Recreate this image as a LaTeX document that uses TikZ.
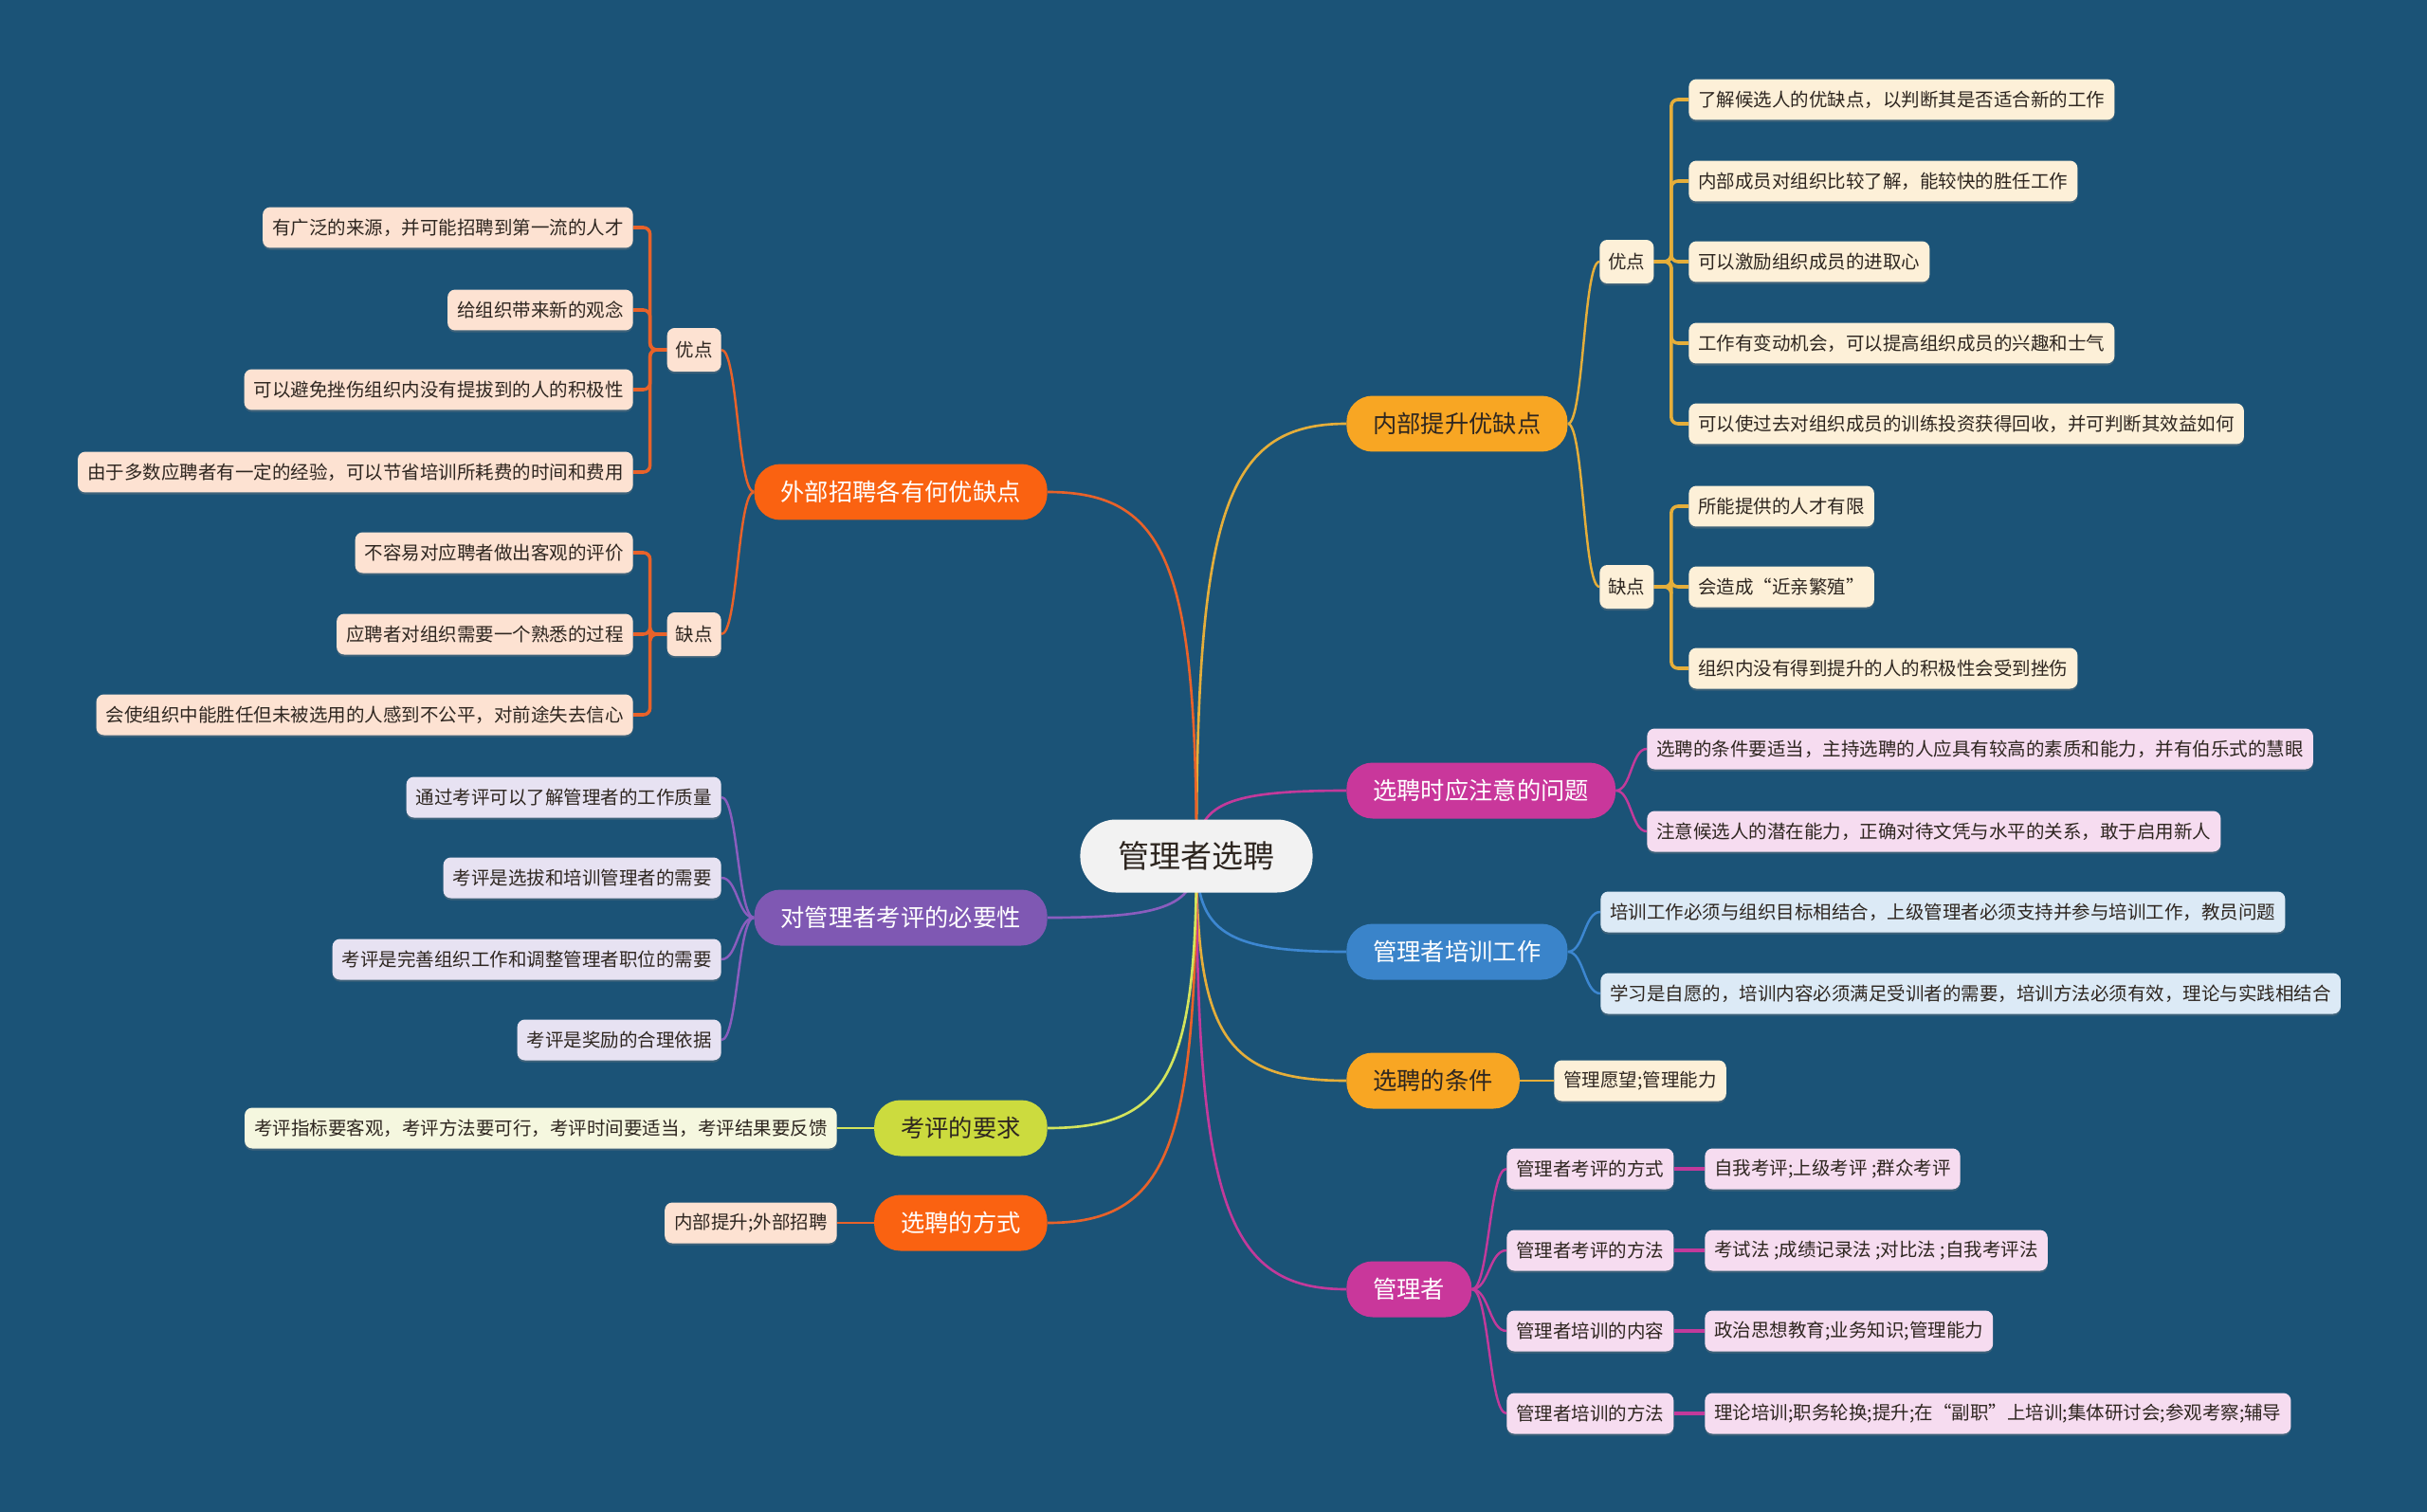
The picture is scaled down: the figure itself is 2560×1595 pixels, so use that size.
\documentclass[tikz,border=0pt]{standalone}
\usepackage{fontspec}
\setmainfont{Noto Sans CJK SC}
\usetikzlibrary{calc,backgrounds,shadows}

\definecolor{mapbg}{HTML}{1B5377}
\definecolor{mapgray}{HTML}{F2F2F2}
\definecolor{mapink}{HTML}{2E2620}
\definecolor{maporange}{HTML}{FA6211}
\definecolor{mapamber}{HTML}{F8A623}
\definecolor{maprose}{HTML}{C9379B}
\definecolor{mapblue}{HTML}{3A84CA}
\definecolor{mapviolet}{HTML}{7F58B3}
\definecolor{maplime}{HTML}{CCDB3E}
% leaf fills
\definecolor{orangeleaf}{HTML}{FDE2D2}
\definecolor{amberleaf}{HTML}{FDF0D8}
\definecolor{roseleaf}{HTML}{F6DCF0}
\definecolor{blueleaf}{HTML}{DCEAF6}
\definecolor{violetleaf}{HTML}{E7E2F2}
\definecolor{limeleaf}{HTML}{F5F7DF}
% connector colours
\definecolor{orangeline}{HTML}{E8622A}
\definecolor{amberline}{HTML}{E5AE3A}
\definecolor{roseline}{HTML}{C23A9B}
\definecolor{blueline}{HTML}{3D87D1}
\definecolor{violetline}{HTML}{8A5DBE}
\definecolor{limeline}{HTML}{D3E45C}

\begin{document}
\begin{tikzpicture}[x=0.02cm, y=-0.02cm,
    rootbox/.style={fill=mapgray, text=mapink, rounded corners=0.75cm, minimum height=1.54cm,
      inner xsep=0.8cm, font=\fontsize{18.8pt}{22pt}\selectfont},
    topic/.style={rounded corners=0.55cm, minimum height=1.18cm, inner xsep=0.56cm,
      font=\fontsize{14.4pt}{17pt}\selectfont},
    leaf/.style={rounded corners=0.16cm, minimum height=0.86cm, inner xsep=0.2cm, text=mapink,
      font=\fontsize{11.1pt}{13pt}\selectfont,
      drop shadow={shadow xshift=0pt, shadow yshift=-1.2pt, opacity=0.35}},
    tag/.style={leaf, minimum height=0.92cm, inner xsep=0.18cm},
    rline/.style={line width=1.5pt},
    sline/.style={line width=1.4pt},
    bline/.style={line width=2pt},
    rcurve/.style={to path={.. controls ($(\tikztostart)!0.8!(\tikztostart |- \tikztotarget)$)
      and ($(\tikztotarget)!0.8!(\tikztostart |- \tikztotarget)$) .. (\tikztotarget)}},
    scurve/.style={to path={.. controls ($(\tikztostart)!0.5!(\tikztostart -| \tikztotarget)$)
      and ($(\tikztotarget)!0.5!(\tikztotarget -| \tikztostart)$) .. (\tikztotarget)}},
    bracket/.style={rounded corners=0.14cm,
      to path={-- ($(\tikztostart)!0.5!(\tikztostart -| \tikztotarget)$) |- (\tikztotarget)}}]

  \node[rootbox] (root) at (1262,903) {管理者选聘};

  % right topics
  \node[topic, fill=mapamber, text=mapink, anchor=west] (inner) at (1420,447) {内部提升优缺点};
  \node[topic, fill=maprose, text=white, anchor=west] (notice) at (1420,834) {选聘时应注意的问题};
  \node[topic, fill=mapblue, text=white, anchor=west] (train) at (1420,1004) {管理者培训工作};
  \node[topic, fill=mapamber, text=mapink, anchor=west] (cond) at (1420,1140) {选聘的条件};
  \node[topic, fill=maprose, text=white, anchor=west] (mgr) at (1420,1360) {管理者};

  % left topics
  \node[topic, fill=maporange, text=white, anchor=east] (outer) at (1105,519) {外部招聘各有何优缺点};
  \node[topic, fill=mapviolet, text=white, anchor=east] (need) at (1105,968) {对管理者考评的必要性};
  \node[topic, fill=maplime, text=mapink, anchor=east] (req) at (1105,1190) {考评的要求};
  \node[topic, fill=maporange, text=white, anchor=east] (way) at (1105,1290) {选聘的方式};

  % outer: pros and cons
  \node[tag, fill=orangeleaf, anchor=east] (oPro) at (761,369) {优点};
  \node[tag, fill=orangeleaf, anchor=east] (oCon) at (761,669) {缺点};
  \node[leaf, fill=orangeleaf, anchor=east] (o1) at (668,240) {有广泛的来源，并可能招聘到第一流的人才};
  \node[leaf, fill=orangeleaf, anchor=east] (o2) at (668,327) {给组织带来新的观念};
  \node[leaf, fill=orangeleaf, anchor=east] (o3) at (668,411) {可以避免挫伤组织内没有提拔到的人的积极性};
  \node[leaf, fill=orangeleaf, anchor=east] (o4) at (668,498) {由于多数应聘者有一定的经验，可以节省培训所耗费的时间和费用};
  \node[leaf, fill=orangeleaf, anchor=east] (o5) at (668,583) {不容易对应聘者做出客观的评价};
  \node[leaf, fill=orangeleaf, anchor=east] (o6) at (668,669) {应聘者对组织需要一个熟悉的过程};
  \node[leaf, fill=orangeleaf, anchor=east] (o7) at (668,754) {会使组织中能胜任但未被选用的人感到不公平，对前途失去信心};

  % inner: pros and cons
  \node[tag, fill=amberleaf, anchor=west] (iPro) at (1687,276) {优点};
  \node[tag, fill=amberleaf, anchor=west] (iCon) at (1687,619) {缺点};
  \node[leaf, fill=amberleaf, anchor=west] (i1) at (1781,105) {了解候选人的优缺点，以判断其是否适合新的工作};
  \node[leaf, fill=amberleaf, anchor=west] (i2) at (1781,191) {内部成员对组织比较了解，能较快的胜任工作};
  \node[leaf, fill=amberleaf, anchor=west] (i3) at (1781,276) {可以激励组织成员的进取心};
  \node[leaf, fill=amberleaf, anchor=west] (i4) at (1781,362) {工作有变动机会，可以提高组织成员的兴趣和士气};
  \node[leaf, fill=amberleaf, anchor=west] (i5) at (1781,447) {可以使过去对组织成员的训练投资获得回收，并可判断其效益如何};
  \node[leaf, fill=amberleaf, anchor=west] (i6) at (1781,534) {所能提供的人才有限};
  \node[leaf, fill=amberleaf, anchor=west] (i7) at (1781,619) {会造成“近亲繁殖”};
  \node[leaf, fill=amberleaf, anchor=west] (i8) at (1781,705) {组织内没有得到提升的人的积极性会受到挫伤};

  \node[leaf, fill=roseleaf, anchor=west] (n1) at (1737,790) {选聘的条件要适当，主持选聘的人应具有较高的素质和能力，并有伯乐式的慧眼};
  \node[leaf, fill=roseleaf, anchor=west] (n2) at (1737,877) {注意候选人的潜在能力，正确对待文凭与水平的关系，敢于启用新人};

  \node[leaf, fill=blueleaf, anchor=west] (t1) at (1688,962) {培训工作必须与组织目标相结合，上级管理者必须支持并参与培训工作，教员问题};
  \node[leaf, fill=blueleaf, anchor=west] (t2) at (1688,1048) {学习是自愿的，培训内容必须满足受训者的需要，培训方法必须有效，理论与实践相结合};

  \node[leaf, fill=amberleaf, anchor=west] (c1) at (1639,1140) {管理愿望;管理能力};

  % manager: four subtopics
  \node[leaf, fill=roseleaf, anchor=west] (m1) at (1589,1233) {管理者考评的方式};
  \node[leaf, fill=roseleaf, anchor=west] (m2) at (1589,1319) {管理者考评的方法};
  \node[leaf, fill=roseleaf, anchor=west] (m3) at (1589,1404) {管理者培训的内容};
  \node[leaf, fill=roseleaf, anchor=west] (m4) at (1589,1491) {管理者培训的方法};
  \node[leaf, fill=roseleaf, anchor=west] (m1x) at (1798,1233) {自我考评;上级考评 ;群众考评};
  \node[leaf, fill=roseleaf, anchor=west] (m2x) at (1798,1319) {考试法 ;成绩记录法 ;对比法 ;自我考评法};
  \node[leaf, fill=roseleaf, anchor=west] (m3x) at (1798,1404) {政治思想教育;业务知识;管理能力};
  \node[leaf, fill=roseleaf, anchor=west] (m4x) at (1798,1491) {理论培训;职务轮换;提升;在“副职”上培训;集体研讨会;参观考察;辅导};

  \node[leaf, fill=violetleaf, anchor=east] (e1) at (761,841) {通过考评可以了解管理者的工作质量};
  \node[leaf, fill=violetleaf, anchor=east] (e2) at (761,926) {考评是选拔和培训管理者的需要};
  \node[leaf, fill=violetleaf, anchor=east] (e3) at (761,1012) {考评是完善组织工作和调整管理者职位的需要};
  \node[leaf, fill=violetleaf, anchor=east] (e4) at (761,1097) {考评是奖励的合理依据};

  \node[leaf, fill=limeleaf, anchor=east] (r1) at (883,1190) {考评指标要客观，考评方法要可行，考评时间要适当，考评结果要反馈};
  \node[leaf, fill=orangeleaf, anchor=east] (w1) at (883,1290) {内部提升;外部招聘};

  \begin{pgfonlayer}{background}
    \fill[mapbg] (0,0) rectangle (2560,1595);
    % from the root
    \draw[rline, amberline] (root.center) edge[rcurve] (inner.west) edge[rcurve] (cond.west);
    \draw[rline, roseline] (root.center) edge[rcurve] (notice.west) edge[rcurve] (mgr.west);
    \draw[rline, blueline] (root.center) edge[rcurve] (train.west);
    \draw[rline, orangeline] (root.center) edge[rcurve] (outer.east) edge[rcurve] (way.east);
    \draw[rline, violetline] (root.center) edge[rcurve] (need.east);
    \draw[rline, limeline] (root.center) edge[rcurve] (req.east);
    % topics to children
    \draw[sline, orangeline] (outer.west) edge[scurve] (oPro.east) edge[scurve] (oCon.east);
    \draw[sline, amberline] (inner.east) edge[scurve] (iPro.west) edge[scurve] (iCon.west);
    \draw[sline, roseline] (notice.east) edge[scurve] (n1.west) edge[scurve] (n2.west);
    \draw[sline, blueline] (train.east) edge[scurve] (t1.west) edge[scurve] (t2.west);
    \draw[sline, amberline] (cond.east) -- (c1.west);
    \draw[sline, roseline] (mgr.east) edge[scurve] (m1.west) edge[scurve] (m2.west)
      edge[scurve] (m3.west) edge[scurve] (m4.west);
    \draw[sline, violetline] (need.west) edge[scurve] (e1.east) edge[scurve] (e2.east)
      edge[scurve] (e3.east) edge[scurve] (e4.east);
    \draw[sline, limeline] (req.west) -- (r1.east);
    \draw[sline, orangeline] (way.west) -- (w1.east);
    % pros / cons to leaves
    \draw[bline, orangeline] (oPro.west) edge[bracket] (o1.east) edge[bracket] (o2.east)
      edge[bracket] (o3.east) edge[bracket] (o4.east);
    \draw[bline, orangeline] (oCon.west) edge[bracket] (o5.east) edge[bracket] (o6.east)
      edge[bracket] (o7.east);
    \draw[bline, amberline] (iPro.east) edge[bracket] (i1.west) edge[bracket] (i2.west)
      edge[bracket] (i3.west) edge[bracket] (i4.west) edge[bracket] (i5.west);
    \draw[bline, amberline] (iCon.east) edge[bracket] (i6.west) edge[bracket] (i7.west)
      edge[bracket] (i8.west);
    \draw[bline, roseline] (m1.east) -- (m1x.west) (m2.east) -- (m2x.west)
      (m3.east) -- (m3x.west) (m4.east) -- (m4x.west);
  \end{pgfonlayer}
\end{tikzpicture}
\end{document}
